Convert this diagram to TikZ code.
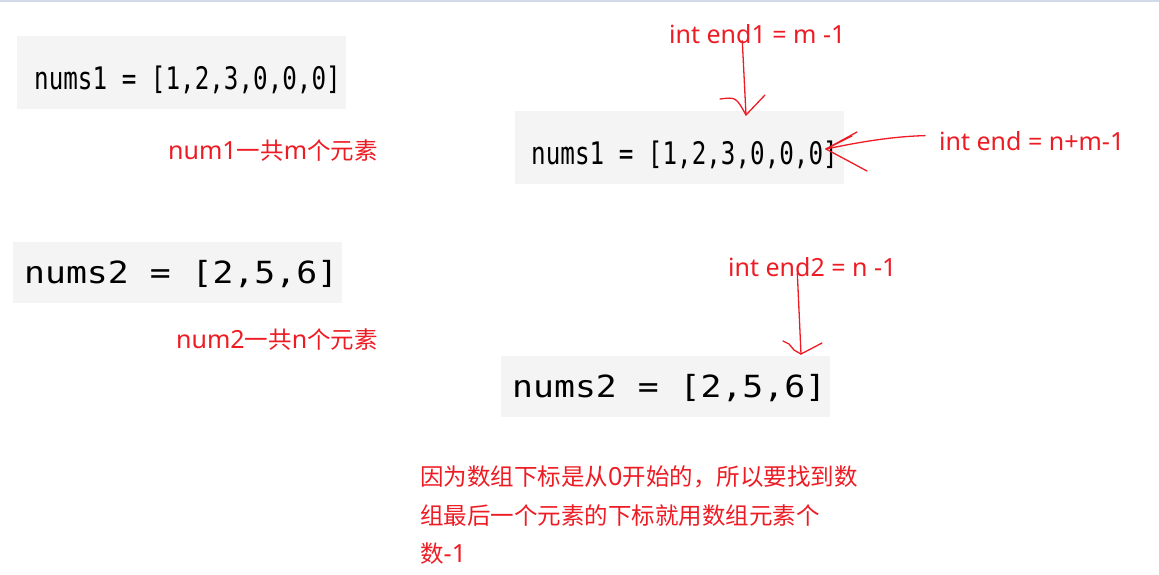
\documentclass[tikz,border=0pt]{standalone}
\usepackage{graphicx}
\usepackage{fontspec}
\setmainfont{Noto Sans}
\newfontfamily\cjk{Noto Sans CJK SC}[Scale=0.94]
\newfontfamily\codefont{DejaVu Sans Mono}
\usetikzlibrary{positioning}
\definecolor{pen}{RGB}{237,28,36}
\definecolor{codebg}{RGB}{244,244,244}
\definecolor{winframe}{RGB}{208,218,232}
\tikzset{
	codebox/.style={fill=codebg, inner sep=0pt, anchor=north west},
	codesmall/.style={inner sep=0pt, anchor=base west, font=\codefont\fontsize{24.25}{29}\selectfont},
	codebig/.style={inner sep=0pt, anchor=base west, font=\codefont\fontsize{30.5}{36}\selectfont},
	note/.style={inner sep=0pt, anchor=base west, text=pen, font=\fontsize{25}{30}\selectfont},
	pen/.style={draw=pen, line width=1.3pt, line cap=round, line join=round},
}
\begin{document}
\begin{tikzpicture}[x=1pt,y=-1pt]
			\useasboundingbox (0,0) rectangle (1159,574);
			\draw [winframe, line width=1.5pt] (0,0.75) -- (1159,0.75);
			% left column
			\node (box1) [codebox, minimum width=329pt, minimum height=73pt] at (17,36) {};
			\node (nums1) [codesmall] at (34,89) {\scalebox{1}[1.28]{nums1 = [1,2,3,0,0,0]}};
			\node (count1) [note] at (168,159.3) {num1{\cjk 一共}m{\cjk 个元素}};
			\node (box2) [codebox, minimum width=329pt, minimum height=61pt] at (13,241.5) {};
			\node (nums2) [codebig] at (24,283) {\scalebox{1.14}[1]{nums2 = [2,5,6]}};
			\node (count2) [note] at (176,348.3) {num2{\cjk 一共}n{\cjk 个元素}};
			% right column
			\node (end1) [note] at (669,43.3) {int end1 = m -1};
			\node (box3) [codebox, minimum width=329pt, minimum height=73pt] at (515,110.7) {};
			\node (nums1r) [codesmall] at (531,164) {\scalebox{1}[1.28]{nums1 = [1,2,3,0,0,0]}};
			\node (endall) [note] at (939,150) {int end = n+m-1};
			\node (end2) [note] at (728,276) {int end2 = n -1};
			\node (box4) [codebox, minimum width=329pt, minimum height=61pt] at (501,356) {};
			\node (nums2r) [codebig] at (512,397.3) {\scalebox{1.14}[1]{nums2 = [2,5,6]}};
			\node (why1) [note] at (420,485.7) {{\cjk 因为数组下标是从}0{\cjk 开始的，所以要找到数}};
			\node (why2) [note] at ([yshift=-38.3pt]why1.base west) {{\cjk 组最后一个元素的下标就用数组元素个}};
			\node (why3) [note] at ([yshift=-38.3pt]why2.base west) {{\cjk 数}-1};
			% hand drawn arrows
			\coordinate (tip1) at (746,115);
			\coordinate (tip2) at (801,354);
			\coordinate (tip3) at (826,149);
			\draw [pen] ([xshift=-15pt,yshift=3pt]end1.south) -- (tip1);
			\draw [pen] (tip1) .. controls +(-10,-18) .. +(-26,-16);
			\draw [pen] (tip1) -- +(19,-20);
			\draw [pen] ([xshift=-15pt,yshift=3pt]end2.south) -- (tip2);
			\draw [pen] (tip2) -- +(-7,-4) -- +(-12,-10) -- +(-18,-13);
			\draw [pen] (tip2) -- +(21,-11);
			\draw [pen] ([xshift=-14pt,yshift=5pt]endall.west) .. controls +(-40,1) and +(20,-4) .. (tip3);
			\draw [pen] (tip3) -- +(31,-17);
			\draw [pen] (tip3) -- +(26,-13);
			\draw [pen] (tip3) -- +(41,22);
\end{tikzpicture}
\end{document}
